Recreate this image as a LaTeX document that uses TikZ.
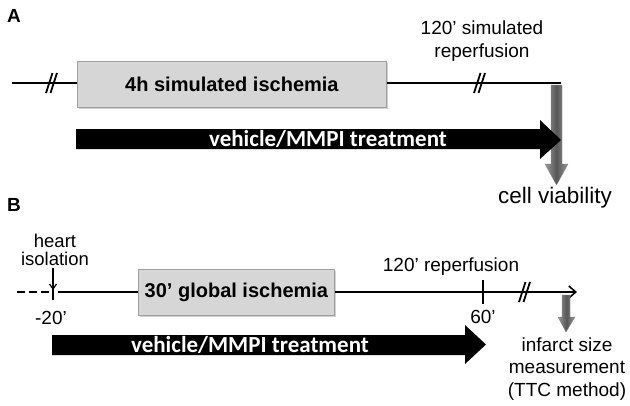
\documentclass[tikz,border=0pt]{standalone}
\usepackage{fontspec}
\setmainfont{Liberation Sans}
\newfontfamily\calib{Carlito}
\usetikzlibrary{arrows.meta,shadows}
\begin{document}
\begin{tikzpicture}[x=1pt,y=-1pt,
  lbl/.style={font=\fontsize{19}{23}\selectfont, inner sep=0pt, align=center},
  panel/.style={font=\bfseries\fontsize{19}{21}\selectfont, inner sep=0pt},
  phase/.style={draw=gray!75, fill=gray!32, line width=0.8pt, inner sep=0pt,
    font=\bfseries\fontsize{20}{22}\selectfont,
    drop shadow={shadow xshift=1.5pt, shadow yshift=-1.5pt, fill=gray!70}},
  tline/.style={line width=2.4pt},
  brk/.style={line width=1.8pt},
  tick/.style={line width=1.8pt},
  treat/.style={font=\calib\bfseries\fontsize{23}{25}\selectfont, text=white, inner sep=0pt},
  greyarrow/.style={left color=black!40, right color=black!40, middle color=black!66, draw=black!50, line width=0.3pt},
  ]
\useasboundingbox (0,0) rectangle (630,405);

% ---------------- Panel A ----------------
\node[panel] (labA) at (14,16) {A};
\node[phase, minimum width=309pt, minimum height=46pt, anchor=north west] (boxA) at (77,61) {4h simulated ischemia};
\coordinate (a0) at (12,83);
\coordinate (a1) at (561,83);
\draw[tline] (a0) -- (a0 -| boxA.west);
\draw[tline] (boxA.east |- a0) -- (a1);
% break marks
\foreach \bx in {52,480}{
  \draw[brk] (\bx-6,93) -- (\bx+0.5,73);
  \draw[brk] (\bx-1.5,93) -- (\bx+5,73);
}
\node[lbl] (repA) at (482,41) {120’ simulated\\reperfusion};
% grey arrow A
\draw[greyarrow] (551,85) -- (562,85) -- (562,164) -- (568,164) -- (556.5,185) -- (545,164) -- (551,164) -- cycle;
% black treatment arrow A
\fill (76,129) -- (540,129) -- (540,120) -- (561,140) -- (540,159) -- (540,149) -- (76,149) -- cycle;
\node[treat] (trA) at (328,139) {vehicle/MMPI treatment};
\node[font=\fontsize{22.5}{25}\selectfont, inner sep=0pt] (cell) at (555,198) {cell viability};

% ---------------- Panel B ----------------
\node[panel] (labB) at (14,205) {B};
\node[phase, minimum width=196pt, minimum height=46pt, anchor=north west] (boxB) at (138,269) {30’ global ischemia};
\coordinate (b0) at (17,292);
\coordinate (bt) at (53,292);
\coordinate (b1) at (58,292);
\coordinate (bend) at (577,292);
\draw[tline, dash pattern=on 8pt off 4pt] (b0) -- (bt);
\draw[tline] (b1) -- (b1 -| boxB.west);
\draw[tline, -{Straight Barb[length=7pt,width=12pt,line width=1.6pt]}] (boxB.east |- b1) -- (bend);
\draw[tick] (53,285) -- (53,300);
\draw[tick] (483,280) -- (483,304);
\draw[brk] (519,302) -- (525.5,282);
\draw[brk] (523.5,302) -- (530,282);
\node[font=\fontsize{18.5}{18}\selectfont, inner sep=0pt, align=center] (heart) at (55,250) {heart\\isolation};
\coordinate (hs) at (53,268);
\draw[line width=1.2pt, -{Straight Barb[length=5pt,width=7pt]}] (hs) -- (53,290);
\node[lbl] (m20) at (51,318) {-20’};
\node[lbl] (p60) at (483,317) {60’};
\node[lbl] (repB) at (451,267) {120’ reperfusion};
% grey arrow B
\draw[greyarrow] (562,295) -- (570,295) -- (570,317) -- (575,317) -- (566,332) -- (558,317) -- (562,317) -- cycle;
% black treatment arrow B
\fill (52,335) -- (465,335) -- (465,325) -- (486,344.5) -- (465,364) -- (465,355) -- (52,355) -- cycle;
\node[treat] (trB) at (250,345) {vehicle/MMPI treatment};
\node[lbl, font=\fontsize{19}{22.5}\selectfont] (inf) at (567,369) {infarct size\\measurement\\(TTC method)};
\end{tikzpicture}
\end{document}
